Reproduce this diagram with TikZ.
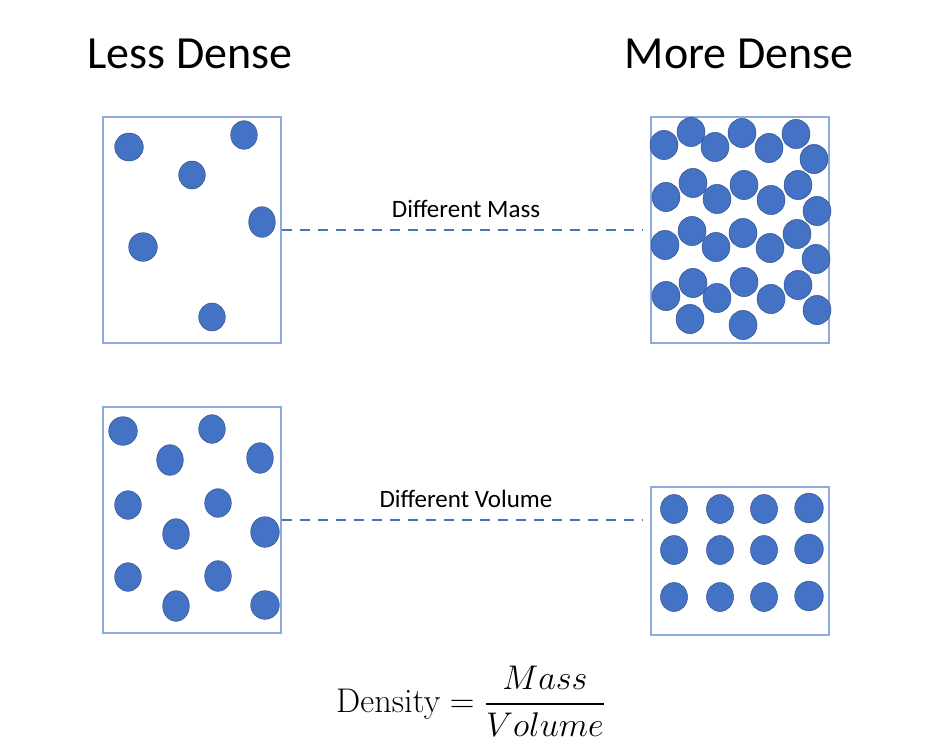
\documentclass[tikz,border=0pt]{standalone}
\usepackage{amsmath}
\usepackage{fontspec}
\usepackage{tikz}
\usepackage{xcolor}
\newfontfamily\labelfont{Carlito}
\definecolor{particleblue}{RGB}{68,114,196}
\definecolor{particleedge}{RGB}{47,82,143}
\definecolor{boxedge}{RGB}{143,170,220}
\tikzset{
    container/.style = {draw=boxedge, line width=1.3pt, rectangle, minimum width=178pt, inner sep=0pt},
    particle/.style = {fill=particleblue, draw=particleedge, line width=0.5pt},
    heading/.style = {font=\labelfont\fontsize{46}{55}\selectfont, anchor=base},
    link/.style = {draw=particleblue, line width=2.6pt, dash pattern=on 10pt off 8pt, shorten >=8pt},
    link-label/.style = {font=\labelfont\fontsize{25}{30}\selectfont, above=8pt, midway},
}

\begin{document}
\begin{tikzpicture}[x=1pt, y=-1pt]
\useasboundingbox (0,0) rectangle (944,752);
% headings
\node[heading] (less) at (190,68) {Less Dense};
\node[heading] (more) at (739,68) {More Dense};
% containers
\node[container, minimum height=226pt] (massL) at (192,230) {};
\node[container, minimum height=226pt] (massR) at (740,230) {};
\node[container, minimum height=226pt] (volL) at (192,520) {};
\node[container, minimum height=148pt] (volR) at (740,561) {};
% particles
\foreach \x/\y/\a/\b in {129/147/14.3/14, 244/135/13.3/14.3, 192/175/13.3/14,
    262/222/13.3/15.3, 143/247/14.3/14.3, 212/317/13.3/14}
    \path[particle] (\x,\y) ellipse [x radius=\a pt, y radius=\b pt];
\foreach \x/\y in {664/145, 691/132, 715/147, 742/133, 769/148, 796/134, 814/159,
    666/197, 693/183, 717/199, 744/185, 771/200, 798/185, 817/211,
    665/245, 692/231, 716/247, 743/233, 770/248, 797/234, 816/259,
    666/296, 693/283, 717/298, 744/282, 771/299, 798/285, 817/310,
    690/319, 743/325}
    \path[particle] (\x,\y) ellipse [x radius=14pt, y radius=14.6pt];
\foreach \x/\y/\a/\b in {123/431/14.3/14.3, 212/429/13.3/14.3, 170/460/13.3/15.3,
    260/458/13.3/15.3, 128/505/13.3/14.3, 218/503/13.3/14.3, 176/534/13.3/15.3,
    265/532/14.3/15.3, 128/577/13.3/14.3, 218/576/13.3/15.3, 176/606/13.3/15.3,
    265/605/14.3/14.3}
    \path[particle] (\x,\y) ellipse [x radius=\a pt, y radius=\b pt];
\foreach \y in {509, 550, 597} {
    \foreach \x in {674, 720, 764}
        \path[particle] (\x,\y) ellipse [x radius=13.5pt, y radius=14.5pt];
    \path[particle] (809,\y-1) ellipse [x radius=14.3pt, y radius=14.8pt];
}
% dashed links
\draw[link] (massL.east) -- node[link-label] (massText) {Different Mass} (massL.east -| massR.west);
\draw[link] (volL.east) -- node[link-label] (volText) {Different Volume} (volL.east -| volR.west);
% formula
\node (formula) at (471,701) {\scalebox{1.65}{\huge $\text{Density} = \dfrac{Mass}{Volume}$}};
\end{tikzpicture}
\end{document}
